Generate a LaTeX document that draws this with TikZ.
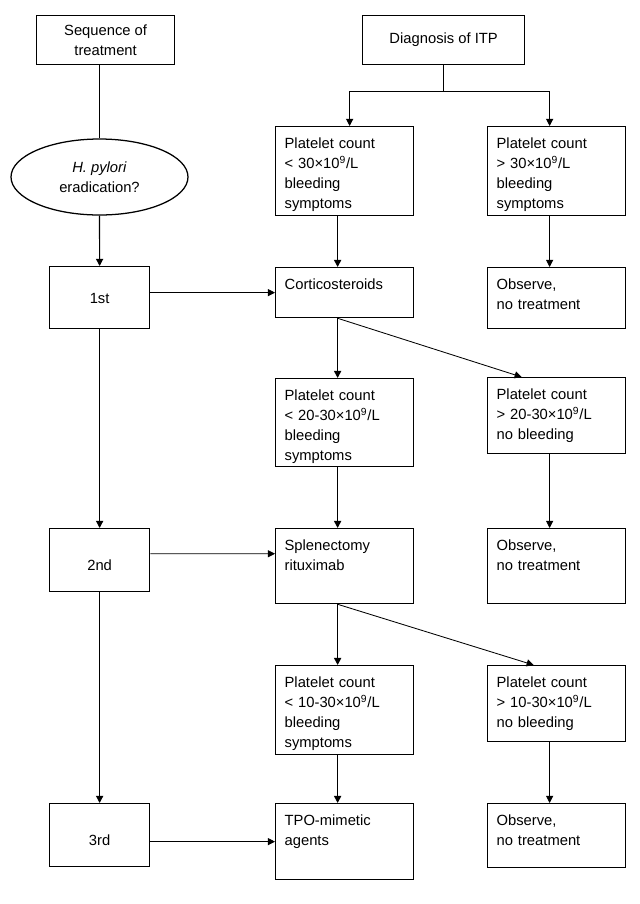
\documentclass[tikz,border=0pt]{standalone}
\usepackage{fontspec}
\setmainfont{Liberation Sans}
\usetikzlibrary{arrows.meta,shapes.geometric}

\begin{document}
\begin{tikzpicture}[x=0.25mm, y=-0.25mm,
    font=\fontsize{10.5}{14.2}\selectfont,
    box/.style={draw, line width=0.9pt, anchor=north west, align=left,
        text width=30mm, inner xsep=2.25mm, inner ysep=0pt,
        text height=5.5mm, text depth=#1},
    rank/.style={draw, line width=0.9pt, anchor=north west,
        minimum width=25mm, minimum height=15.75mm, inner sep=0pt, text depth=0pt},
    arr/.style={-{Triangle[length=5pt,width=5pt]}, line width=0.6pt}]
    \useasboundingbox (0,0) rectangle (640,904);

    % Headings
    \node[draw, line width=0.9pt, anchor=north west, align=center,
        minimum width=34.5mm, minimum height=12.25mm] (seq) at (36,15) {Sequence of\\treatment};
    \node[draw, line width=0.9pt, anchor=north west,
        minimum width=40.5mm, minimum height=12.25mm] (diag) at (362,15) {Diagnosis of ITP};
    \node[draw, ellipse, line width=0.9pt, align=center, inner sep=0pt,
        minimum width=44.25mm, minimum height=19mm] (hp) at (99.5,177) {\textit{H. pylori}\\eradication?};

    % Line of treatment
    \foreach \i/\t/\y/\h/\th in {1/1st/266/15.5mm/9pt, 2/2nd/528/15.75mm/14.5pt, 3/3rd/803/15.75mm/14.5pt} {
        \node[rank, minimum height=\h, text height=\th] (rk\i) at (49,\y) {\t};
    }

    % Middle column
    \node[box=16.75mm] (plA) at (275,126) {Platelet count\\< 30×10\textsuperscript{9}/L\\bleeding\\symptoms};
    \node[box=7mm] (cort) at (275,267) {Corticosteroids};
    \node[box=16.5mm] (plB) at (275,378) {Platelet count\\< 20-30×10\textsuperscript{9}/L\\bleeding\\symptoms};
    \node[box=13.25mm] (splen) at (275,528) {Splenectomy\\rituximab};
    \node[box=16.75mm] (plC) at (275,665) {Platelet count\\< 10-30×10\textsuperscript{9}/L\\bleeding\\symptoms};
    \node[box=13.5mm] (tpo) at (275,803) {TPO-mimetic\\agents};

    % Right column
    \node[box=16.75mm] (prA) at (487,126) {Platelet count\\> 30×10\textsuperscript{9}/L\\bleeding\\symptoms};
    \node[box=13.5mm] (prB) at (487,377) {Platelet count\\> 20-30×10\textsuperscript{9}/L\\no bleeding};
    \node[box=13.5mm] (prC) at (487,665) {Platelet count\\> 10-30×10\textsuperscript{9}/L\\no bleeding};
    \foreach \i/\y/\d in {1/267/9.75mm, 2/528/13.25mm, 3/803/10.5mm} {
        \node[box=\d] (obs\i) at (487,\y) {Observe,\\no treatment};
    }

    % Split below the diagnosis
    \draw[line width=0.7pt] (diag.south) -- ++(0,26) coordinate (split);
    \draw[arr, line width=0.7pt] (split) -| ([xshift=1.25mm]plA.north);
    \draw[arr, line width=0.7pt] (split) -| ([xshift=-1.75mm]prA.north);

    % Left column connectors
    \draw[line width=1.3pt] (seq.south -| hp.north) -- (hp.north);
    \draw[arr, line width=0.8pt] (hp.south) -- (rk1.north);
    \draw[arr, line width=0.8pt] (rk1.south) -- (rk2.north);
    \draw[arr, line width=0.8pt] (rk2.south) -- (rk3.north);

    % From each line to its treatment
    \draw[arr] (rk1.east |- cort.west) -- (cort.west);
    \draw[arr] ([yshift=1.6mm]rk2.east) -- ([yshift=3.1mm]splen.west);
    \draw[arr] (rk3.east |- tpo.west) -- (tpo.west);

    % Vertical flow
    \foreach \a/\b in {plA/cort, cort/plB, plB/splen, splen/plC, plC/tpo} {
        \draw[arr, line width=1.1pt] ([xshift=-1.75mm]\a.south) -- ([xshift=-1.75mm]\b.north);
    }
    \foreach \a/\b in {prA/obs1, prB/obs2, prC/obs3} {
        \draw[arr] ([xshift=-1.75mm]\a.south) -- ([xshift=-1.75mm]\b.north);
    }

    % Diagonal branches
    \draw[arr] ([xshift=-1.75mm]cort.south) -- ([xshift=-8.75mm]prB.north);
    \draw[arr] ([xshift=-1.75mm]splen.south) -- ([xshift=-5.75mm]prC.north);
\end{tikzpicture}
\end{document}
